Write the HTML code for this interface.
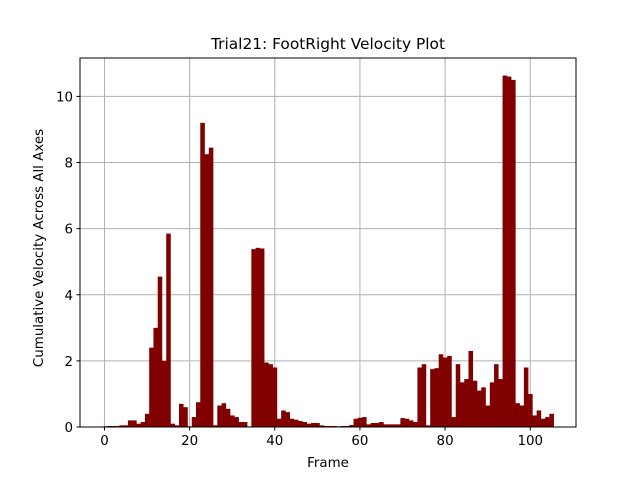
<!DOCTYPE html>
<html><head><meta charset="utf-8"><style>
body{margin:0;background:#fff;}
svg text{font-family:"DejaVu Sans","Liberation Sans",sans-serif;fill:#000;}
</style></head><body>
<svg id="chart" width="640" height="480">
<rect x="0" y="0" width="640" height="480" fill="#fff"/>
<g id="grid"></g>
<g id="bars"></g>
<rect x="80" y="58" width="496" height="369" fill="none" stroke="#000" stroke-width="1"/>
<g id="ticks"></g>
<text x="328" y="49" text-anchor="middle" font-size="15.4">Trial21: FootRight Velocity Plot</text>
<text x="328" y="467" text-anchor="middle" font-size="13.4">Frame</text>
<text x="0" y="0" transform="translate(43,248) rotate(-90)" text-anchor="middle" font-size="13.4">Cumulative Velocity Across All Axes</text>
</svg>
<script>
const values = [0.02,0.03,0.03,0.03,0.05,0.05,0.2,0.2,0.1,0.15,0.4,
2.4,3.0,4.55,2.0,5.85,0.1,0.05,0.7,0.6,0.02,
0.3,0.75,9.2,8.25,8.45,0.05,0.65,0.72,0.55,0.35,
0.3,0.15,0.15,0.02,5.38,5.42,5.4,1.95,1.9,1.8,
0.25,0.5,0.45,0.25,0.22,0.18,0.15,0.1,0.12,0.12,
0.05,0.03,0.03,0.03,0.02,0.03,0.03,0.06,0.25,0.28,
0.3,0.08,0.12,0.12,0.15,0.08,0.08,0.08,0.08,0.27,
0.25,0.2,0.15,1.8,1.9,0.05,1.75,1.78,2.2,2.1,
2.15,0.3,1.9,1.35,1.45,2.3,1.4,1.1,1.2,0.65,
1.35,1.9,1.45,10.63,10.6,10.5,0.72,0.65,1.8,1.0,
0.35,0.5,0.25,0.3,0.4];
const xTicks = [0,20,40,60,80,100];
const yTicks = [0,2,4,6,8,10];
const NS = "http://www.w3.org/2000/svg";
const L=80,R=576,T=58,B=427;
const xmin=-5.75,xmax=values.length-0.5+5.25;
const ymax=Math.max(...values)*1.05;
const xs=v=>L+(v-xmin)/(xmax-xmin)*(R-L);
const ys=v=>B-v/ymax*(B-T);
function mk(tag,attrs,parent){const e=document.createElementNS(NS,tag);for(const k in attrs)e.setAttribute(k,attrs[k]);document.getElementById(parent).appendChild(e);return e;}
xTicks.forEach(t=>{
  const g=mk('line',{x1:xs(t),x2:xs(t),y1:T,y2:B,stroke:'#b0b0b0','stroke-width':1},'grid');
  
  
  const tk=mk('line',{x1:xs(t),x2:xs(t),y1:B,y2:B+3.5,stroke:'#000'},'ticks');
  
  
  const lb=mk('text',{x:xs(t),y:B+18,'text-anchor':'middle','font-size':13.4},'ticks');
  lb.textContent=t;
  
  
});
yTicks.forEach(t=>{
  const g=mk('line',{x1:L,x2:R,y1:ys(t),y2:ys(t),stroke:'#b0b0b0','stroke-width':1},'grid');
  
  
  const tk=mk('line',{x1:L-3.5,x2:L,y1:ys(t),y2:ys(t),stroke:'#000'},'ticks');
  
  
  const lb=mk('text',{x:L-7,y:ys(t)+5,'text-anchor':'end','font-size':13.4},'ticks');
  lb.textContent=t;
  
  
});
values.forEach((v,i)=>{
  const x0=xs(i-0.5),x1=xs(i+0.5);
  const b=mk('rect',{x:x0,y:ys(v),width:x1-x0+0.3,height:B-ys(v),fill:'#800000'},'bars');
  
  
});
</script>
</body></html>
